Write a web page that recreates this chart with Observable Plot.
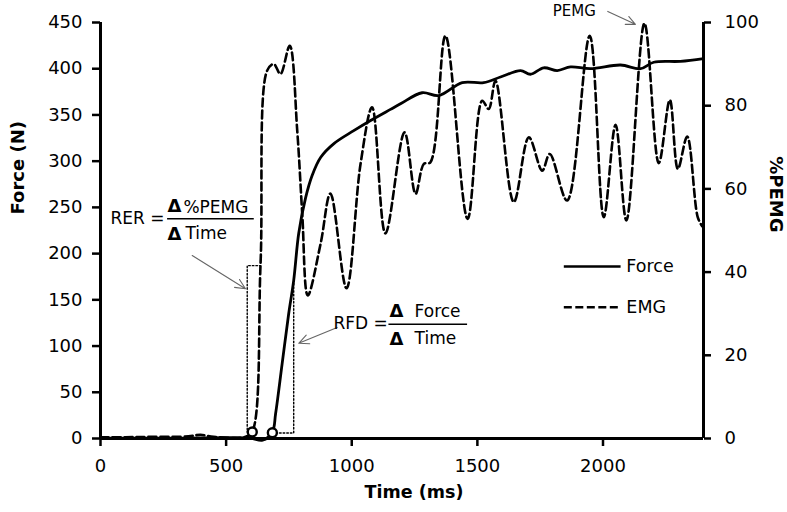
<!DOCTYPE html>
<html>
<head>
<meta charset="utf-8">
<script src="https://cdn.jsdelivr.net/npm/d3@7"></script>
<script src="https://cdn.jsdelivr.net/npm/@observablehq/plot@0.6"></script>
<style>
  html, body { margin: 0; padding: 0; background: #fff; }
</style>
</head>
<body>
<div id="chart"></div>
<script>
// ---- Data ----
const forceTime = [0,300,500,597,645,684,697,723,749,769,789,816,843,876,929,1008,1075,1154,1194,1280,1346,1440,1525,1592,1672,1711,1764,1818,1871,1950,2070,2149,2202,2308,2400];
const forceN    = [0.5,0.5,1,0.5,-1.8,7.1,27,81,135,171,222,260,285,304,319,333,344,356,362,374,371,385,385,391,398,394,401,398,402,400,404,400,407,408,411];

const emgTime = [0,100,200,350,398,450,577,604,637,663,690,716,753,783,803,825,876,915,979,1035,1081,1134,1210,1254,1287,1313,1373,1461,1519,1545,1572,1645,1705,1758,1788,1857,1947,2003,2050,2093,2165,2222,2266,2298,2335,2377,2395];
const emgPct  = [0.3,0.3,0.4,0.5,0.9,0.4,0.4,1.6,42,88.4,90,87.6,94.4,74,54,34.4,46.8,58.9,36.1,66,79.6,49.3,73.6,58.8,66,66.4,96.8,52.8,81.2,79.2,86,56.8,72.4,64.4,68.4,57.2,96.8,53.2,75.4,52.4,99.8,66.2,81.4,64.8,72.6,53.2,51];

const xTicks = [0,500,1000,1500,2000];
const forceTicks = [0,50,100,150,200,250,300,350,400,450];
const pemgTicks = [0,20,40,60,80,100];
const pemgMax = 100, forceMax = 450;
const k = forceMax / pemgMax; // %PEMG -> force-axis units

// onset markers
const onsetTime = [604, 684];
const onsetForce = [7.1, 6.2];

// dotted RER / RFD boxes
const boxId = ["RER","RER","RER","RER","RFD","RFD","RFD"];
const boxT  = [604,584,584,637,684,769,769];
const boxF  = [7.1,7.1,187,187,6,6,171];

// arrows
const arrX1 = [365, 942, 2019], arrY1 = [198, 120, 462];
const arrX2 = [577, 789, 2129], arrY2 = [162, 103, 448];

// annotation texts
const annText = ["RER =", "%PEMG", "Time", "RFD =", "Force", "Time"];
const annT    = [40, 330, 338, 927, 1250, 1250];
const annF    = [237.6, 250, 222, 124.5, 137.5, 108.3];
const deltaT  = [267, 267, 1150, 1150];
const deltaF  = [251, 221, 137.5, 107];
const fracX1 = [265, 1146], fracX2 = [610, 1459], fracF = [237.6, 123.5];
const peakLabel = "PEMG", peakLabelT = 1800, peakLabelF = 462;

// legend
const legNames = ["Force", "EMG"];
const legF = [186, 142];
const legX1 = 1844, legX2 = 2070, legTextX = 2093;

// ---- Build tables ----
const forceData = forceTime.map((t, i) => ({t, f: forceN[i]}));
const emgData = emgTime.map((t, i) => ({t, f: emgPct[i] * k}));
const onsets = onsetTime.map((t, i) => ({t, f: onsetForce[i]}));
const boxes = boxT.map((t, i) => ({id: boxId[i], t, f: boxF[i]}));
const arrows = arrX1.map((x, i) => ({x1: x, y1: arrY1[i], x2: arrX2[i], y2: arrY2[i]}));
const anns = annText.map((s, i) => ({s, t: annT[i], f: annF[i]}));
const deltas = deltaT.map((t, i) => ({t, f: deltaF[i]}));
const fracs = fracX1.map((x, i) => ({x1: x, x2: fracX2[i], f: fracF[i]}));
const legend = legNames.map((n, i) => ({n, f: legF[i]}));

const FONT = "DejaVu Sans";
const fmt = d3.format("d");

const chart = Plot.plot({
  width: 787,
  height: 512,
  marginLeft: 100,
  marginRight: 84,
  marginTop: 22,
  marginBottom: 74,
  style: {fontFamily: FONT, fontSize: "18px", color: "#000", background: "#fff", overflow: "visible"},
  x: {domain: [0, 2400]},
  y: {domain: [0, 450]},
  marks: [
    // axes
    Plot.axisX({ticks: xTicks, tickFormat: fmt, tickSize: 8, tickPadding: 13, fontSize: 18, strokeWidth: 2.5, label: null}),
    Plot.axisY({anchor: "left", ticks: forceTicks, tickFormat: fmt, tickSize: 8, tickPadding: 10, fontSize: 18, strokeWidth: 2.5, label: null}),
    Plot.axisY({anchor: "right", ticks: pemgTicks.map(v => v * k), tickFormat: d => fmt(Math.round(d / k)), tickSize: 7, tickPadding: 14, fontSize: 18, strokeWidth: 2.5, label: null}),
    Plot.ruleX([0], {strokeWidth: 3}),
    Plot.ruleX([2400], {strokeWidth: 3}),
    Plot.ruleY([0], {strokeWidth: 3}),
    // axis titles
    Plot.text(["Force (N)"], {frameAnchor: "left", dx: -82, dy: -16, rotate: -90, fontWeight: "bold", fontSize: 18}),
    Plot.text(["Time (ms)"], {frameAnchor: "bottom", dx: 12, dy: 59, fontWeight: "bold", fontSize: 17.5}),
    Plot.text(["%PEMG"], {frameAnchor: "right", dx: 72, dy: 2, rotate: 90, fontWeight: "bold", fontSize: 18}),
    // series
    Plot.line(emgData, {x: "t", y: "f", stroke: "#000", strokeWidth: 2.6, strokeDasharray: "8,4", curve: "catmull-rom"}),
    Plot.line(forceData, {x: "t", y: "f", stroke: "#000", strokeWidth: 2.8, curve: "catmull-rom"}),
    // dotted boxes
    Plot.line(boxes, {x: "t", y: "f", z: "id", stroke: "#000", strokeWidth: 1.4, strokeDasharray: "1.6,2"}),
    // onset circles
    Plot.dot(onsets, {x: "t", y: "f", r: 4.5, stroke: "#000", strokeWidth: 2.4, fill: "#fff"}),
    // arrows
    Plot.arrow(arrows, {x1: "x1", y1: "y1", x2: "x2", y2: "y2", stroke: "#666", strokeWidth: 1.1, headLength: 15, headAngle: 50}),
    // annotations
    Plot.text(anns, {x: "t", y: "f", text: "s", textAnchor: "start", fontSize: 17}),
    Plot.text(deltas, {x: "t", y: "f", text: () => "Δ", textAnchor: "start", fontSize: 18, fontWeight: "bold"}),
    Plot.link(fracs, {x1: "x1", x2: "x2", y1: "f", y2: "f", stroke: "#000", strokeWidth: 1.5}),
    Plot.text([peakLabel], {x: () => peakLabelT, y: () => peakLabelF, text: d => d, textAnchor: "start", fontSize: 15}),
    // legend
    Plot.link(legend.slice(0, 1), {x1: () => legX1, x2: () => legX2, y1: "f", y2: "f", stroke: "#000", strokeWidth: 2.6}),
    Plot.link(legend.slice(1), {x1: () => legX1, x2: () => legX2, y1: "f", y2: "f", stroke: "#000", strokeWidth: 2.6, strokeDasharray: "8,3.5"}),
    Plot.text(legend, {x: () => legTextX, y: "f", text: "n", textAnchor: "start", fontSize: 17.5})
  ]
});

document.getElementById("chart").appendChild(chart);
</script>
</body>
</html>
